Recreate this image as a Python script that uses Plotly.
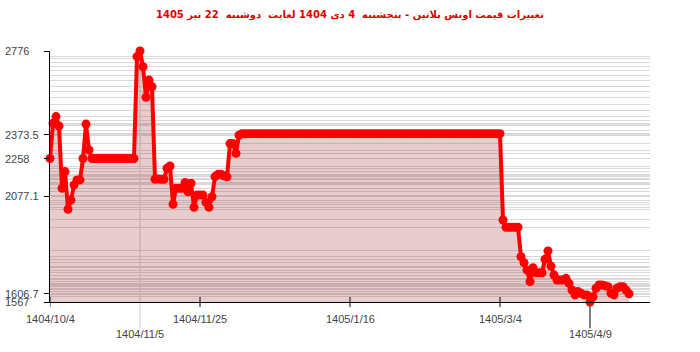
import plotly.graph_objects as go

# ---- data ----
values = (
    [2258, 2428, 2460, 2415, 2115, 2195, 2014, 2058, 2131, 2155, 2155, 2258, 2424, 2299]
    + [2258] * 15
    + [2749, 2776, 2700, 2553, 2636, 2604, 2158, 2160, 2158, 2158, 2211, 2222, 2038,
       2115, 2115, 2115, 2142, 2098, 2139, 2023, 2082, 2082, 2082, 2047, 2023, 2074,
       2171, 2182, 2182, 2175, 2170, 2330, 2330, 2283, 2370]
    + [2378] * 87
    + [1962, 1927, 1927, 1927, 1927, 1927, 1785, 1756, 1721, 1665, 1732, 1708, 1708,
       1708, 1773, 1813, 1740, 1697, 1673, 1673, 1673, 1681, 1657, 1625, 1601, 1617,
       1609, 1601, 1601, 1567, 1592, 1633, 1649, 1649, 1645, 1641, 1609, 1601, 1633,
       1641, 1641, 1625, 1606.7]
)
x_index = list(range(len(values)))

y_label_vals = [2776, 2373.5, 2258, 2077.1, 1606.7, 1567]
y_label_text = ["2776", "2373.5", "2258", "2077.1", "1606.7", "1567"]

# extra horizontal grid levels visible in the reference (price levels)
extra_grid = [2740, 2720, 2680, 2660, 2580, 2520, 2490, 2440, 2395]

x_tick_idx = [0, 30, 50, 100, 150, 180]
x_tick_labels = ["1404/10/4", "1404/11/5", "1404/11/25", "1405/1/16", "1405/3/4", "1405/4/9"]
x_tick_row = [0, 1, 0, 0, 0, 1]  # layout: staggered label rows

title = "تغییرات قیمت اونس پلاتین - پنجشنبه  4 دی 1404 لغایت  دوشنبه  22 تیر 1405"

grid_vals = sorted(set(values) | set(y_label_vals) | set(extra_grid))

fig = go.Figure()
fig.add_trace(go.Scatter(
    x=x_index, y=values, mode="lines+markers",
    line=dict(color="#ff0000", width=4),
    marker=dict(color="#ff0000", size=9),
    fill="tozeroy", fillcolor="rgba(150,40,40,0.23)",
    cliponaxis=False,
    hoverinfo="skip", showlegend=False,
))

label_font = dict(family="Liberation Sans, Arial", size=11, color="#444")

annotations = []
for v, t in zip(y_label_vals, y_label_text):
    annotations.append(dict(x=0, xref="paper", xanchor="left", xshift=-47,
                            y=v, yref="y", yanchor="middle", text=t,
                            showarrow=False, font=label_font))
shapes = []
for xi, lab, row in zip(x_tick_idx, x_tick_labels, x_tick_row):
    annotations.append(dict(x=xi, xref="x", xanchor="center",
                            y=0, yref="paper", yanchor="top",
                            yshift=-9 if row == 0 else -24, text=lab,
                            showarrow=False, font=label_font))
    if row == 0:
        shapes.append(dict(type="line", xref="x", yref="paper", x0=xi, x1=xi,
                           y0=-0.02, y1=0.02, line=dict(color="black", width=1)))
    else:
        top = 1 if xi == 30 else 0
        col = "#cccccc" if xi == 30 else "black"
        shapes.append(dict(type="line", xref="x", yref="paper", x0=xi, x1=xi,
                           y0=-0.105, y1=top, line=dict(color=col, width=1),
                           layer="below"))

fig.update_layout(
    width=700, height=352,
    margin=dict(l=50, r=50, t=51, b=50),
    paper_bgcolor="white", plot_bgcolor="white",
    title=dict(text="<b>" + title + "</b>", x=0.5, xanchor="center", y=0.96, yanchor="middle",
               font=dict(family="Tahoma, DejaVu Sans", size=10, color="#e00000")),
    xaxis=dict(range=[0, 200], showgrid=False, zeroline=False, showticklabels=False,
               ticks="", showline=True, linecolor="black", linewidth=1),
    yaxis=dict(range=[1567, 2776], tickvals=grid_vals, showticklabels=False, ticks="",
               showgrid=True, gridcolor="#d9d9d9", gridwidth=1, zeroline=False,
               showline=True, linecolor="black", linewidth=1),
    yaxis2=dict(range=[1567, 2776], overlaying="y", tickvals=y_label_vals,
                showticklabels=False, ticks="outside", ticklen=5, tickcolor="black",
                showgrid=False, zeroline=False, showline=False),
    annotations=annotations,
    shapes=shapes,
)
fig.add_trace(go.Scatter(x=[None], y=[None], yaxis="y2", showlegend=False, hoverinfo="skip"))

fig.write_html("out.html")
